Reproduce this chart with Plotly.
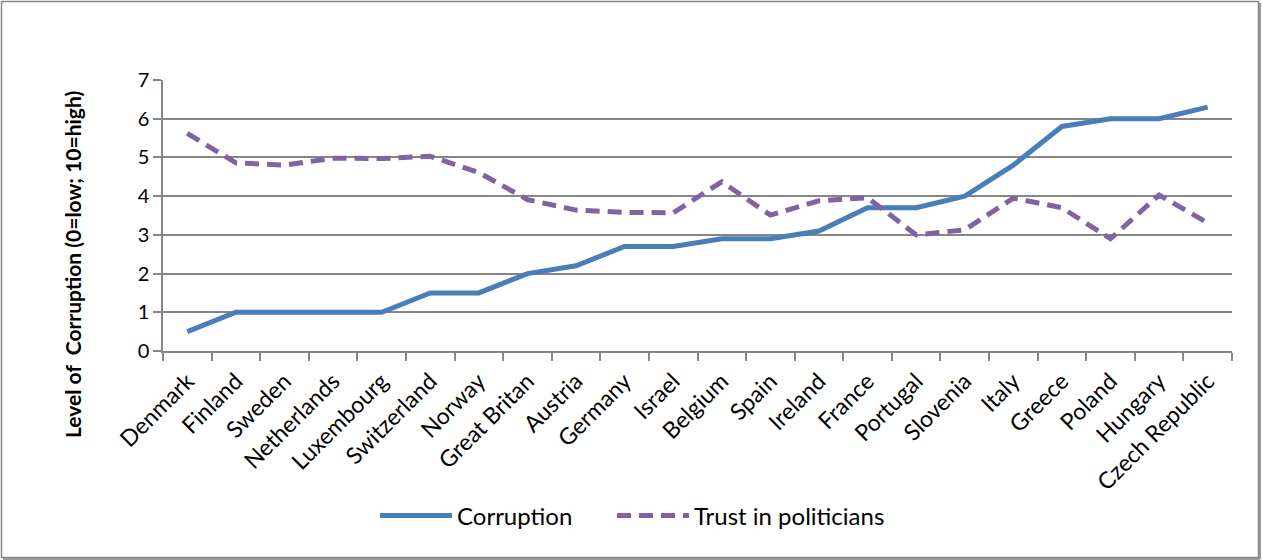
import plotly.graph_objects as go

countries = ["Denmark", "Finland", "Sweden", "Netherlands", "Luxembourg", "Switzerland",
             "Norway", "Great Britan", "Austria", "Germany", "Israel", "Belgium", "Spain",
             "Ireland", "France", "Portugal", "Slovenia", "Italy", "Greece", "Poland",
             "Hungary", "Czech Republic"]
corruption = [0.5, 1.0, 1.0, 1.0, 1.0, 1.5, 1.5, 2.0, 2.2, 2.7, 2.7, 2.9, 2.9, 3.1,
              3.7, 3.7, 4.0, 4.8, 5.8, 6.0, 6.0, 6.3]
trust = [5.62, 4.86, 4.80, 4.98, 4.97, 5.03, 4.61, 3.91, 3.64, 3.58, 3.57, 4.37, 3.51,
         3.88, 3.96, 3.0, 3.13, 3.95, 3.70, 2.90, 4.03, 3.31]

FONT = "Lato"
GRID = "#868686"

fig = go.Figure()
fig.add_trace(go.Scatter(x=countries, y=corruption, mode="lines", name="Corruption",
                         line=dict(color="#4A7EBB", width=5), legend="legend"))
fig.add_trace(go.Scatter(x=countries, y=trust, mode="lines", name="Trust in politicians",
                         line=dict(color="#8064A2", width=5, dash="14px,8px"),
                         legend="legend2"))

# plot area in pixels: x 163..1232, y 80..351
pw, ph = 1069.0, 271.0
def px_x(p):
    return (p - 163) / pw
def px_y(p):
    return (351 - p) / ph

legend_style = dict(orientation="h", xref="container", yref="container",
                    y=1 - 516 / 560, xanchor="left", yanchor="middle",
                    bgcolor="rgba(0,0,0,0)", font=dict(size=24, family=FONT),
                    itemwidth=72)

fig.update_layout(
    width=1262, height=560,
    margin=dict(l=163, r=30, t=80, b=209, autoexpand=False),
    paper_bgcolor="white", plot_bgcolor="white",
    font=dict(family=FONT, size=18, color="black"),
    showlegend=True,
    legend=dict(x=375 / 1262, **legend_style),
    legend2=dict(x=612 / 1262, **legend_style),
    xaxis=dict(type="category", range=[-0.5, len(countries) - 0.5], automargin=False,
               showgrid=False, showline=True, linecolor=GRID, linewidth=1.5,
               ticks="outside", tickson="boundaries", ticklen=8, tickcolor=GRID,
               tickwidth=1.5, tickangle=-45, ticklabelstandoff=6,
               tickfont=dict(size=23, family=FONT)),
    yaxis=dict(range=[0, 7], dtick=1, showgrid=True, gridcolor=GRID, gridwidth=1.5,
               automargin=False,
               showline=True, linecolor=GRID, linewidth=1.5, zeroline=False,
               ticks="outside", ticklen=8, tickcolor=GRID, tickwidth=1.5,
               tickfont=dict(size=20, family=FONT)),
    annotations=[dict(text="<b>Level of  Corruption (0=low; 10=high)</b>",
                      xref="paper", yref="paper", x=px_x(72), y=px_y(265),
                      textangle=-90, showarrow=False, xanchor="center", yanchor="middle",
                      font=dict(size=21, family=FONT, color="black"))],
    shapes=[dict(type="rect", xref="paper", yref="paper",
                 x0=px_x(1.5), x1=px_x(1258.5), y0=px_y(557.5), y1=px_y(1.5),
                 line=dict(color=GRID, width=1.5), layer="below"),
            dict(type="line", xref="paper", yref="paper",
                 x0=px_x(1260), x1=px_x(1260), y0=px_y(559), y1=px_y(3),
                 line=dict(color="#9a9a9a", width=2)),
            dict(type="line", xref="paper", yref="paper",
                 x0=px_x(3), x1=px_x(1260), y0=px_y(559), y1=px_y(559),
                 line=dict(color="#9a9a9a", width=2))],
)

fig.write_html("out.html")
